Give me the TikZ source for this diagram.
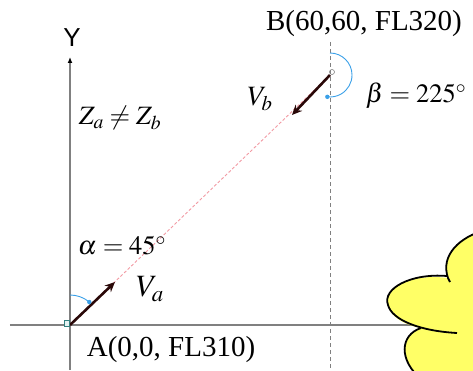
\documentclass[tikz,border=0pt]{standalone}
\usepackage{mathptmx}
\usepackage{fontspec}
\setmainfont{Liberation Serif}
\newfontfamily\axisfont{Liberation Sans}
\usetikzlibrary{arrows.meta}

\definecolor{trackpink}{HTML}{F29AA3}
\definecolor{angblue}{HTML}{3AA0E8}
\definecolor{velbrown}{HTML}{2A0808}
\definecolor{cloudfill}{HTML}{FFFF66}

\begin{document}
\begin{tikzpicture}[x=1pt, y=1pt,
  axis/.style={draw=gray, line width=1.3pt},
  guide/.style={draw=gray, line width=1pt, dash pattern=on 4pt off 3pt},
  track/.style={draw=trackpink, line width=0.9pt, dash pattern=on 3pt off 2pt},
  vel/.style={draw=velbrown, line width=2.6pt, -{Stealth[length=10pt,width=9pt]}},
  ang/.style={draw=angblue, line width=0.9pt},
  lbl/.style={font=\fontsize{29}{31}\selectfont},
  mlbl/.style={font=\fontsize{26.5}{28}\selectfont}]
\useasboundingbox (-70,-45) rectangle (403,325);
% axes and the vertical reference through B
\coordinate (A) at (0,0);
\coordinate (B) at (260,250);
\coordinate (ytop) at (0,268);
\coordinate (ybot) at (0,-45);
\coordinate (xl) at (-60,0);
\coordinate (xr) at (345,0);
\coordinate (gtop) at (260,283);
\coordinate (gbot) at (260,-45);
\draw[axis, -{Latex[length=6pt,width=5pt,black]}] (ybot) -- (ytop);
\draw[axis] (xl) -- (xr);
\draw[guide] (gtop) -- (gbot);
\draw[track] (A) -- (B);
% velocity vectors
\coordinate (vatip) at (45,43);
\coordinate (vbtip) at (222,210);
\draw[vel] (A) -- (vatip);
\draw[vel] (B) -- (vbtip);
% heading angles
\draw[ang] (A) ++(90:30) arc[start angle=90, end angle=50, radius=30] coordinate (aend);
\fill[angblue] (aend) circle (2.2);
\draw[ang] (B) ++(90:22) arc[start angle=90, end angle=-97, radius=22] coordinate (bend);
\fill[angblue] (bend) circle (2.2);
\draw[teal!60!gray, fill=teal!10] (-6,-1) rectangle (-1,5);
\draw[gray, line width=0.6pt] (262,253) circle (2.5);
% labels
\node[font=\axisfont\fontsize{26}{28}\selectfont] (ylab) at (2,287) {Y};
\node[mlbl] (zlab) at (50,207) {$Z_a \neq Z_b$};
\node[lbl] (blab) at (294,301) {B(60,60, FL320)};
\node[mlbl] (betalab) at (346,229) {$\beta = 225^\circ$};
\node[mlbl] (alphalab) at (52,79) {$\alpha = 45^\circ$};
\node[font=\fontsize{31}{32}\selectfont] (valab) at (80,36) {$V_a$};
\node[font=\fontsize{28}{30}\selectfont] (vblab) at (190,226) {$V_b$};
\node[lbl] (alab) at (101,-25) {A(0,0, FL310)};
% cloud in the corner
\fill[cloudfill] (415,95) .. controls (390,88) and (370,70) .. (378,47)
  .. controls (340,52) and (312,36) .. (318,20)
  .. controls (320,8) and (335,0) .. (351,-3)
  .. controls (330,-10) and (328,-35) .. (352,-55) -- (420,-60) -- (420,95) -- cycle;
\draw[line width=1.8pt] (415,95) .. controls (390,88) and (370,70) .. (378,47) -- (380,43);
\draw[line width=1.8pt] (377,49) .. controls (340,52) and (312,36) .. (318,20)
  .. controls (322,5) and (350,-6) .. (387,-8);
\draw[line width=1.8pt] (351,-3) .. controls (330,-10) and (328,-35) .. (352,-55);
\end{tikzpicture}
\end{document}
